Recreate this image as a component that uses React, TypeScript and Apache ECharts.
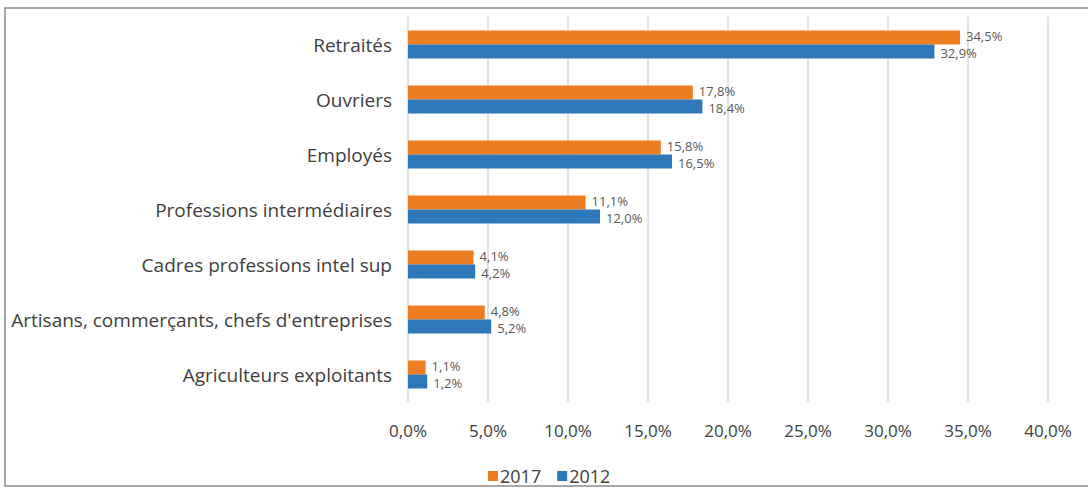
import React, { useEffect, useRef } from "react";
import * as echarts from "echarts";

const categories = [
  "Retraités",
  "Ouvriers",
  "Employés",
  "Professions intermédiaires",
  "Cadres professions intel sup",
  "Artisans, commerçants, chefs d'entreprises",
  "Agriculteurs exploitants",
];
const values2017 = [34.5, 17.8, 15.8, 11.1, 4.1, 4.8, 1.1];
const values2012 = [32.9, 18.4, 16.5, 12.0, 4.2, 5.2, 1.2];
const seriesNames = ["2017", "2012"];

const fmt = (v: number) => v.toFixed(1).replace(".", ",") + "%";

export default function App() {
  const ref = useRef<HTMLDivElement>(null);
  useEffect(() => {
    if (!ref.current) return;
    const chart = echarts.init(ref.current, undefined, { renderer: "svg" });
    const font = "Open Sans, Noto Sans, sans-serif";
    const mkLabel = (dy: number) => ({
      show: true,
      position: "right",
      distance: 6,
      offset: [0, dy],
      formatter: (p: any) => fmt(p.value),
      fontSize: 13,
      color: "#595959",
      fontFamily: font,
    });
    chart.setOption({
      animation: false,
      backgroundColor: "#ffffff",
      textStyle: { fontFamily: font },
      graphic: [
        {
          type: "rect",
          shape: { x: 5, y: 8, width: 1100, height: 478 },
          style: { fill: "none", stroke: "#8a8a8a", lineWidth: 1.5 },
          silent: true,
        },
      ],
      grid: { left: 408, top: 17, width: 640, height: 385, containLabel: false },
      legend: {
        data: seriesNames,
        bottom: 0,
        left: 483,
        itemWidth: 10,
        itemHeight: 10,
        itemGap: 16,
        icon: "rect",
        textStyle: { fontSize: 18, color: "#404040", fontFamily: font, padding: [0, 0, 0, -3] },
      },
      xAxis: {
        type: "value",
        min: 0,
        max: 40,
        interval: 5,
        axisLine: { show: false },
        axisTick: { show: false },
        splitLine: { show: true, lineStyle: { color: "#d9d9d9", width: 1.5 } },
        axisLabel: {
          formatter: (v: number) => fmt(v),
          fontSize: 17,
          color: "#404040",
          margin: 20,
          fontFamily: font,
        },
      },
      yAxis: {
        type: "category",
        data: categories,
        inverse: true,
        axisLine: { show: false },
        axisTick: { show: false },
        axisLabel: { fontSize: 19, color: "#404040", margin: 16, fontFamily: font },
      },
      series: [
        {
          name: seriesNames[0],
          type: "bar",
          data: values2017,
          barWidth: 14,
          barGap: "0%",
          itemStyle: { color: "#EE7D22" },
          label: mkLabel(-2),
        },
        {
          name: seriesNames[1],
          type: "bar",
          data: values2012,
          barWidth: 14,
          barGap: "0%",
          itemStyle: { color: "#2E78BA" },
          label: mkLabel(1),
        },
      ],
    });
    return () => chart.dispose();
  }, []);
  return <div ref={ref} style={{ width: 1088, height: 490, position: "absolute", left: 0, top: 0 }} />;
}
